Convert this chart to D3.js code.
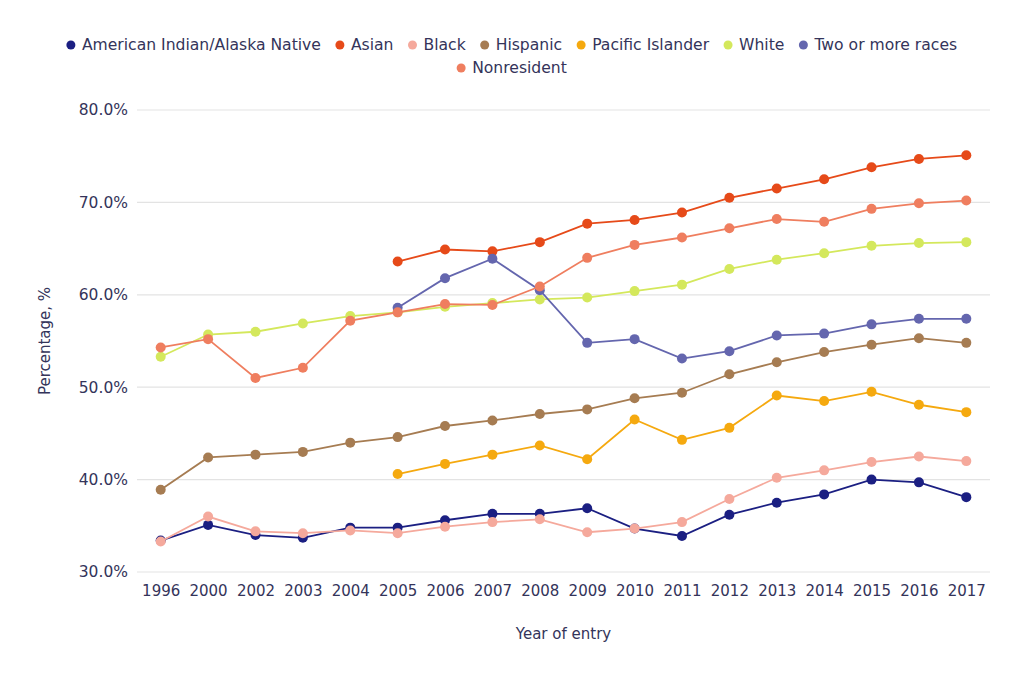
<!DOCTYPE html>
<html>
<head>
<meta charset="utf-8">
<script src="https://cdn.jsdelivr.net/npm/d3@7"></script>
<style>
  body { margin: 0; background: #fff; }
  text { font-family: "DejaVu Sans", Verdana, sans-serif; fill: #34345a; }
</style>
</head>
<body>
<div id="chart"></div>
<script>
// data
var years = ["1996", "2000", "2002", "2003", "2004", "2005", "2006", "2007", "2008",
    "2009", "2010", "2011", "2012", "2013", "2014", "2015", "2016", "2017"];

var americanIndian = [33.4, 35.1, 34.0, 33.7, 34.8, 34.8, 35.6, 36.3, 36.3, 36.9, 34.7, 33.9, 36.2, 37.5, 38.4, 40.0, 39.7, 38.1];
var asian = [null, null, null, null, null, 63.6, 64.9, 64.7, 65.7, 67.7, 68.1, 68.9, 70.5, 71.5, 72.5, 73.8, 74.7, 75.1];
var black = [33.3, 36.0, 34.4, 34.2, 34.5, 34.2, 34.9, 35.4, 35.7, 34.3, 34.7, 35.4, 37.9, 40.2, 41.0, 41.9, 42.5, 42.0];
var hispanic = [38.9, 42.4, 42.7, 43.0, 44.0, 44.6, 45.8, 46.4, 47.1, 47.6, 48.8, 49.4, 51.4, 52.7, 53.8, 54.6, 55.3, 54.8];
var pacificIslander = [null, null, null, null, null, 40.6, 41.7, 42.7, 43.7, 42.2, 46.5, 44.3, 45.6, 49.1, 48.5, 49.5, 48.1, 47.3];
var white = [53.3, 55.7, 56.0, 56.9, 57.7, 58.1, 58.7, 59.1, 59.5, 59.7, 60.4, 61.1, 62.8, 63.8, 64.5, 65.3, 65.6, 65.7];
var twoOrMore = [null, null, null, null, null, 58.6, 61.8, 63.9, 60.5, 54.8, 55.2, 53.1, 53.9, 55.6, 55.8, 56.8, 57.4, 57.4];
var nonresident = [54.3, 55.2, 51.0, 52.1, 57.2, 58.1, 59.0, 58.9, 60.9, 64.0, 65.4, 66.2, 67.2, 68.2, 67.9, 69.3, 69.9, 70.2];

var seriesNames = ["American Indian/Alaska Native", "Asian", "Black", "Hispanic",
    "Pacific Islander", "White", "Two or more races", "Nonresident"];
var seriesValues = [americanIndian, asian, black, hispanic, pacificIslander, white, twoOrMore, nonresident];
var colors = ["#1b1f82", "#e64a19", "#f5a99c", "#a67c52", "#f5a90f", "#d4e85c", "#6466ae", "#ef7e5f"];

var yTicks = [30, 40, 50, 60, 70, 80];

var width = 1024, height = 678;
var margin = { top: 110, right: 34, bottom: 106, left: 137 };

var svg = d3.select("#chart")
    .append("svg")
    .attr("width", width)
    .attr("height", height);

var x = d3.scalePoint()
    .domain(years)
    .range([margin.left, width - margin.right])
    .padding(0.5);

var y = d3.scaleLinear()
    .domain([30, 80])
    .range([height - margin.bottom, margin.top]);

// gridlines
svg.append("g")
    .selectAll("line")
    .data(yTicks)
    .enter()
    .append("line")
    .attr("x1", margin.left)
    .attr("x2", width - margin.right)
    .attr("y1", function(d) { return y(d); })
    .attr("y2", function(d) { return y(d); })
    .style("stroke", "#e3e3e3")
    .style("stroke-width", 1.2);

// y axis
var yAxis = svg.append("g")
    .attr("transform", "translate(" + margin.left + ",0)")
    .call(d3.axisLeft(y).tickValues(yTicks).tickSize(0).tickPadding(9)
        .tickFormat(function(d) { return d.toFixed(1) + "%"; }));
yAxis.select(".domain").remove();
yAxis.selectAll("text").style("font-size", "15.5px");

// x axis
var xAxis = svg.append("g")
    .attr("transform", "translate(0," + (height - margin.bottom) + ")")
    .call(d3.axisBottom(x).tickSize(0).tickPadding(13));
xAxis.select(".domain").remove();
xAxis.selectAll("text").style("font-size", "15px");

// axis titles
svg.append("text")
    .attr("x", (margin.left + width - margin.right) / 2)
    .attr("y", 639)
    .attr("text-anchor", "middle")
    .style("font-size", "15px")
    .text("Year of entry");

svg.append("text")
    .attr("transform", "translate(50," + y(55) + ") rotate(-90)")
    .attr("text-anchor", "middle")
    .style("font-size", "15px")
    .text("Percentage, %");

// lines and points
var line = d3.line()
    .defined(function(d) { return d != null; })
    .x(function(d, i) { return x(years[i]); })
    .y(function(d) { return y(d); });

seriesValues.forEach(function(vals, s) {
    var g = svg.append("g");
    g.append("path")
        .datum(vals)
        .attr("d", line)
        .style("fill", "none")
        .style("stroke", colors[s])
        .style("stroke-width", 1.8);
    g.selectAll("circle")
        .data(vals.map(function(v, i) { return { v: v, year: years[i] }; })
            .filter(function(d) { return d.v != null; }))
        .enter()
        .append("circle")
        .attr("cx", function(d) { return x(d.year); })
        .attr("cy", function(d) { return y(d.v); })
        .attr("r", 5)
        .style("fill", colors[s]);
});

// legend, centred rows that wrap
var legend = svg.append("g");
var items = legend.selectAll("g")
    .data(seriesNames)
    .enter()
    .append("g");
items.append("circle")
    .attr("r", 4.5)
    .attr("cy", -5)
    .style("fill", function(d, i) { return colors[i]; });
items.append("text")
    .attr("x", 11)
    .style("font-size", "15.6px")
    .text(function(d) { return d; });

var maxRow = 920, gap = 19;
var rows = [[]], rowW = [0];
items.each(function(d, i) {
    var w = 11 + this.querySelector("text").getComputedTextLength();
    var r = rows.length - 1;
    var add = rows[r].length ? gap + w : w;
    if (rowW[r] + add > maxRow) {
        rows.push([]); rowW.push(0); r++; add = w;
    }
    rows[r].push({ node: this, w: w });
    rowW[r] += add;
});
rows.forEach(function(row, r) {
    var cx = width / 2 - rowW[r] / 2 + 2;
    row.forEach(function(it) {
        d3.select(it.node).attr("transform", "translate(" + cx + "," + (50 + r * 23) + ")");
        cx += it.w + gap;
    });
});
</script>
</body>
</html>
